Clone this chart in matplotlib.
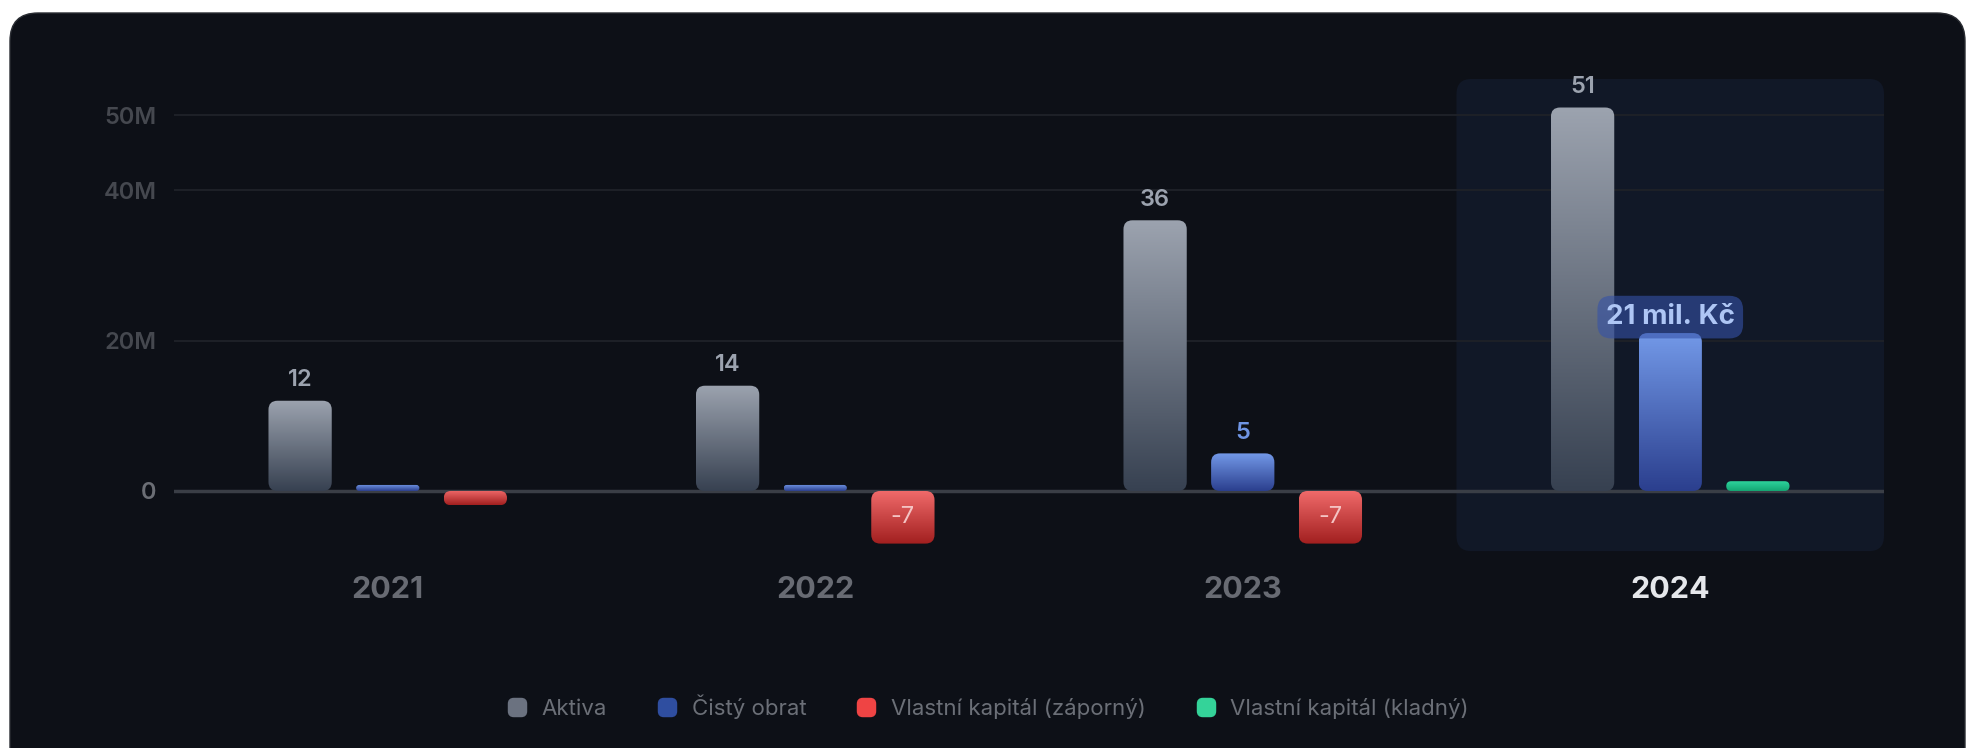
import numpy as np
import matplotlib.pyplot as plt
import matplotlib.patches as mpatches
from matplotlib.colors import LinearSegmentedColormap
from matplotlib.lines import Line2D
from matplotlib.transforms import IdentityTransform

plt.rcParams['font.family'] = ['Inter', 'DejaVu Sans']

# data (mil. Kč)
years = ['2021', '2022', '2023', '2024']
aktiva = [12, 14, 36, 51]
obrat = [0.8, 0.8, 5, 21]
kapital = [-1.9, -7, -7, 1.3]
y_ticks = [0, 20, 40, 50]
y_tick_labels = ['0', '20M', '40M', '50M']
legend_labels = ['Aktiva', 'Čistý obrat', 'Vlastní kapitál (záporný)', 'Vlastní kapitál (kladný)']
highlight = 3

card_bg = '#0d1017'
W, H, DPI = 1975, 748, 100

fig = plt.figure(figsize=(W / DPI, H / DPI), dpi=DPI, facecolor='white')

# karta s tmavým pozadím
card = mpatches.FancyBboxPatch((10, -40), W - 20, H - 13 + 40,
                               boxstyle='round,pad=0,rounding_size=28',
                               transform=IdentityTransform(), fc=card_bg,
                               ec='#2a2d33', lw=1, zorder=-5)
fig.patches.append(card)

ax = fig.add_axes([174 / W, 1 - 562.4 / H, 1710 / W, 500 / H])
ax.set_facecolor('none')
ax.set_xlim(-0.5, 3.5)
ax.set_ylim(-9.5, 57)

x = np.arange(len(years))
width = 0.148
off = 0.205

bb = ax.get_window_extent()
xpx = bb.width / 4.0
ypx = bb.height / 66.5
asp = xpx / ypx


def grad_bars(xs, vals, top_col, bot_col, radius=9):
    cmap = LinearSegmentedColormap.from_list('g', [bot_col, top_col])
    bars = ax.bar(xs, vals, width, color='none', zorder=2)
    for b in bars:
        x0, y0 = b.get_x(), b.get_y()
        w, h = b.get_width(), b.get_height()
        if h < 0:
            y0, h = y0 + h, -h
        if h == 0:
            continue
        r_px = min(radius, h * ypx / 2, w * xpx / 2)
        p = mpatches.FancyBboxPatch((x0, y0), w, h,
                                    boxstyle=f'round,pad=0,rounding_size={r_px / xpx}',
                                    mutation_aspect=asp, fc='none', ec='none',
                                    transform=ax.transData, zorder=2)
        ax.add_patch(p)
        g = np.linspace(0, 1, 256).reshape(-1, 1)
        im = ax.imshow(g, cmap=cmap, origin='lower', aspect='auto',
                       extent=[x0, x0 + w, y0, y0 + h], zorder=2)
        im.set_clip_path(p)
    return bars


# zvýraznění posledního roku
hl = mpatches.FancyBboxPatch((highlight - 0.5, -8), 1.0, 62.8,
                             boxstyle=f'round,pad=0,rounding_size={15 / xpx}',
                             mutation_aspect=asp, fc='#111827', ec='none', zorder=0)
ax.add_patch(hl)

ax.set_yticks(y_ticks)
ax.set_yticklabels(y_tick_labels)
ax.yaxis.grid(True, color='#1d2027', lw=1.5, zorder=0.5)
ax.set_axisbelow(True)
ax.axhline(0, color='#3a3e46', lw=2.5, zorder=1)

grad_bars(x - off, aktiva, '#9ca3af', '#374151')
grad_bars(x, obrat, '#7399e8', '#2b3f8e')
neg = [v if v < 0 else 0 for v in kapital]
pos = [v if v > 0 else 0 for v in kapital]
grad_bars(x + off, neg, '#f06a6a', '#a11f1f')
grad_bars(x + off, pos, '#2ed39c', '#14a774')
ax.set_xlim(-0.5, 3.5)
ax.set_ylim(-9.5, 57)

# popisky hodnot
for i, v in enumerate(aktiva):
    ax.annotate(f'{v:.0f}', (x[i] - off, v), xytext=(0, 10.5), textcoords='offset points',
                ha='center', va='baseline', fontsize=17, fontweight='semibold',
                color='#9ca3af', zorder=5)
for i, v in enumerate(obrat):
    if i == highlight:
        ax.annotate(f'{v:.0f} mil. Kč', (x[i], v), xytext=(0, 11.5), textcoords='offset points',
                    ha='center', va='center', fontsize=20, fontweight='bold', color='#aec6f5',
                    zorder=6, bbox=dict(boxstyle='round,pad=0.3,rounding_size=0.5',
                                        fc='#3552a8', alpha=0.6, ec='none'))
    elif v >= 3:
        ax.annotate(f'{v:.0f}', (x[i], v), xytext=(0, 10.5), textcoords='offset points',
                    ha='center', va='baseline', fontsize=17, fontweight='semibold',
                    color='#6f95e4', zorder=5)
for i, v in enumerate(kapital):
    if v <= -3:
        ax.text(x[i] + off, v / 2, f'{v:.0f}', ha='center', va='center', fontsize=17,
                color='#f4c3c3', zorder=5)

ax.set_xticks(x)
ax.set_xticklabels(years)
for i, t in enumerate(ax.get_xticklabels()):
    t.set_fontsize(22)
    t.set_fontweight('bold')
    t.set_color('#e5e7eb' if i == highlight else '#686b73')
for i, t in enumerate(ax.get_yticklabels()):
    t.set_fontsize(17)
    t.set_fontweight('semibold')
    t.set_color('#6b6e75' if i == 0 else '#45484f')
ax.tick_params(axis='x', length=0, pad=10)
ax.tick_params(axis='y', length=0, pad=12.6)
for s in ax.spines.values():
    s.set_visible(False)

# legenda
verts = mpatches.BoxStyle.Round(pad=0, rounding_size=0.3)(-0.5, -0.5, 1, 1, 1)
leg_cols = ['#6b7280', '#2f4ea0', '#ef4444', '#34d399']
handles = [Line2D([], [], ls='none', marker=verts, markersize=13, color=c) for c in leg_cols]
leg = fig.legend(handles, legend_labels, loc='center', bbox_to_anchor=(0.5, 1 - 707 / H),
                 ncol=4, frameon=False, fontsize=16, handlelength=1, handletextpad=0.6,
                 columnspacing=2.2)
for t in leg.get_texts():
    t.set_color('#6b6f77')

fig.savefig('out.png', dpi=DPI, facecolor='white')
